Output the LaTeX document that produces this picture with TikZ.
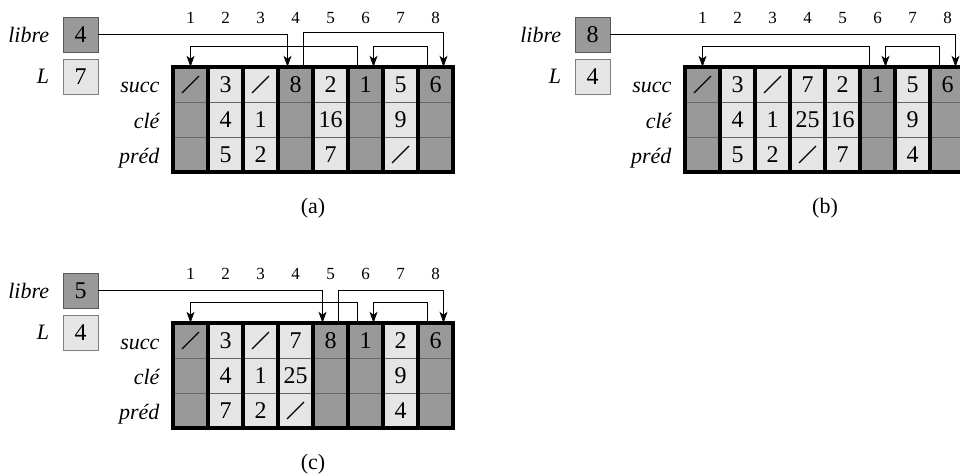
\documentclass[tikz,border=0pt]{standalone}
\usepackage{fontspec}
\setmainfont{Liberation Serif}
\usepackage{graphicx}
\usepackage{tikz}
\usetikzlibrary{arrows.meta}

\newcommand{\barre}{\rotatebox{45}{\rule[-0.6pt]{24pt}{1.2pt}}}

\begin{document}
\begin{tikzpicture}[x=1pt, y=1pt, font=\fontsize{22}{26}\selectfont,
  >={Stealth[length=11pt,width=8pt,inset=3pt]},
  cell/.style={minimum width=35pt, minimum height=35pt, inner sep=0pt, font=\fontsize{24}{28}\selectfont},
  vide/.style={cell, fill=black!40},
  pris/.style={cell, fill=black!10},
  boite/.style={cell, draw=black!65, line width=0.8pt},
  indice/.style={font=\fontsize{17}{20}\selectfont},
  rang/.style={anchor=base east, font=\fontsize{22}{26}\selectfont\itshape},
  ligne/.style={black!60, line width=1pt},
  cloison/.style={line width=3.5pt},
  fleche/.style={->, line width=1pt}]
 \useasboundingbox (0,0) rectangle (960,475);

 % (a)
 \begin{scope}[shift={(173,408)}]
 \node[boite, fill=black!40, label={[label distance=10pt, font=\fontsize{22}{26}\selectfont]left:\textit{libre}}] (alibre) at (-92.5,32.5) {4};
 \node[boite, fill=black!10, draw=black!50, label={[label distance=10pt, font=\fontsize{22}{26}\selectfont]left:\textit{L}}] (aL) at (-92.5,-9.5) {7};
 \node[indice] (ai1) at (17.5,49) {1};
 \node[indice] (ai2) at (52.5,49) {2};
 \node[indice] (ai3) at (87.5,49) {3};
 \node[indice] (ai4) at (122.5,49) {4};
 \node[indice] (ai5) at (157.5,49) {5};
 \node[indice] (ai6) at (192.5,49) {6};
 \node[indice] (ai7) at (227.5,49) {7};
 \node[indice] (ai8) at (262.5,49) {8};
 \node[rang] (asucc) at (-10,-26) {succ};
 \node[rang] (acle) at (-10,-61) {clé};
 \node[rang] (apred) at (-10,-96) {préd};
 \node[vide] (a1) at (17.5,-17.5) {\barre}; \node[vide] (a1c) at (17.5,-52.5) {}; \node[vide] (a1p) at (17.5,-87.5) {};
 \node[pris] (a2) at (52.5,-17.5) {3}; \node[pris] (a2c) at (52.5,-52.5) {4}; \node[pris] (a2p) at (52.5,-87.5) {5};
 \node[pris] (a3) at (87.5,-17.5) {\barre}; \node[pris] (a3c) at (87.5,-52.5) {1}; \node[pris] (a3p) at (87.5,-87.5) {2};
 \node[vide] (a4) at (122.5,-17.5) {8}; \node[vide] (a4c) at (122.5,-52.5) {}; \node[vide] (a4p) at (122.5,-87.5) {};
 \node[pris] (a5) at (157.5,-17.5) {2}; \node[pris] (a5c) at (157.5,-52.5) {16}; \node[pris] (a5p) at (157.5,-87.5) {7};
 \node[vide] (a6) at (192.5,-17.5) {1}; \node[vide] (a6c) at (192.5,-52.5) {}; \node[vide] (a6p) at (192.5,-87.5) {};
 \node[pris] (a7) at (227.5,-17.5) {5}; \node[pris] (a7c) at (227.5,-52.5) {9}; \node[pris] (a7p) at (227.5,-87.5) {\barre};
 \node[vide] (a8) at (262.5,-17.5) {6}; \node[vide] (a8c) at (262.5,-52.5) {}; \node[vide] (a8p) at (262.5,-87.5) {};
 \draw[ligne] (0,-35) -- (280,-35) (0,-70) -- (280,-70);
 \draw[cloison] (35,0) -- (35,-105) (70,0) -- (70,-105) (105,0) -- (105,-105) (140,0) -- (140,-105)
   (175,0) -- (175,-105) (210,0) -- (210,-105) (245,0) -- (245,-105);
 \draw[line width=4pt] (0,0) rectangle (280,-105);
 \draw[fleche] (alibre.east) -| ([xshift=-8pt]a4.north);
 \draw[fleche] ([xshift=8pt]a4.north) -- ++(0,34) -| ([xshift=8pt]a8.north);
 \draw[fleche] ([xshift=-8pt]a8.north) -- ++(0,20) -| ([xshift=8pt]a6.north);
 \draw[fleche] ([xshift=-8pt]a6.north) -- ++(0,20) -| (a1.north);
 \node (acap) at (140,-141) {(a)};
 \end{scope}

 % (b)
 \begin{scope}[shift={(685,408)}]
 \node[boite, fill=black!40, label={[label distance=10pt, font=\fontsize{22}{26}\selectfont]left:\textit{libre}}] (blibre) at (-92.5,32.5) {8};
 \node[boite, fill=black!10, draw=black!50, label={[label distance=10pt, font=\fontsize{22}{26}\selectfont]left:\textit{L}}] (bL) at (-92.5,-9.5) {4};
 \node[indice] (bi1) at (17.5,49) {1};
 \node[indice] (bi2) at (52.5,49) {2};
 \node[indice] (bi3) at (87.5,49) {3};
 \node[indice] (bi4) at (122.5,49) {4};
 \node[indice] (bi5) at (157.5,49) {5};
 \node[indice] (bi6) at (192.5,49) {6};
 \node[indice] (bi7) at (227.5,49) {7};
 \node[indice] (bi8) at (262.5,49) {8};
 \node[rang] (bsucc) at (-10,-26) {succ};
 \node[rang] (bcle) at (-10,-61) {clé};
 \node[rang] (bpred) at (-10,-96) {préd};
 \node[vide] (b1) at (17.5,-17.5) {\barre}; \node[vide] (b1c) at (17.5,-52.5) {}; \node[vide] (b1p) at (17.5,-87.5) {};
 \node[pris] (b2) at (52.5,-17.5) {3}; \node[pris] (b2c) at (52.5,-52.5) {4}; \node[pris] (b2p) at (52.5,-87.5) {5};
 \node[pris] (b3) at (87.5,-17.5) {\barre}; \node[pris] (b3c) at (87.5,-52.5) {1}; \node[pris] (b3p) at (87.5,-87.5) {2};
 \node[pris] (b4) at (122.5,-17.5) {7}; \node[pris] (b4c) at (122.5,-52.5) {25}; \node[pris] (b4p) at (122.5,-87.5) {\barre};
 \node[pris] (b5) at (157.5,-17.5) {2}; \node[pris] (b5c) at (157.5,-52.5) {16}; \node[pris] (b5p) at (157.5,-87.5) {7};
 \node[vide] (b6) at (192.5,-17.5) {1}; \node[vide] (b6c) at (192.5,-52.5) {}; \node[vide] (b6p) at (192.5,-87.5) {};
 \node[pris] (b7) at (227.5,-17.5) {5}; \node[pris] (b7c) at (227.5,-52.5) {9}; \node[pris] (b7p) at (227.5,-87.5) {4};
 \node[vide] (b8) at (262.5,-17.5) {6}; \node[vide] (b8c) at (262.5,-52.5) {}; \node[vide] (b8p) at (262.5,-87.5) {};
 \draw[ligne] (0,-35) -- (280,-35) (0,-70) -- (280,-70);
 \draw[cloison] (35,0) -- (35,-105) (70,0) -- (70,-105) (105,0) -- (105,-105) (140,0) -- (140,-105)
   (175,0) -- (175,-105) (210,0) -- (210,-105) (245,0) -- (245,-105);
 \draw[line width=4pt] (0,0) rectangle (280,-105);
 \draw[fleche] (blibre.east) -| ([xshift=8pt]b8.north);
 \draw[fleche] ([xshift=-8pt]b8.north) -- ++(0,20) -| ([xshift=8pt]b6.north);
 \draw[fleche] ([xshift=-8pt]b6.north) -- ++(0,20) -| (b1.north);
 \node (bcap) at (140,-141) {(b)};
 \end{scope}

 % (c)
 \begin{scope}[shift={(173,152)}]
 \node[boite, fill=black!40, label={[label distance=10pt, font=\fontsize{22}{26}\selectfont]left:\textit{libre}}] (clibre) at (-92.5,32.5) {5};
 \node[boite, fill=black!10, draw=black!50, label={[label distance=10pt, font=\fontsize{22}{26}\selectfont]left:\textit{L}}] (cL) at (-92.5,-9.5) {4};
 \node[indice] (ci1) at (17.5,49) {1};
 \node[indice] (ci2) at (52.5,49) {2};
 \node[indice] (ci3) at (87.5,49) {3};
 \node[indice] (ci4) at (122.5,49) {4};
 \node[indice] (ci5) at (157.5,49) {5};
 \node[indice] (ci6) at (192.5,49) {6};
 \node[indice] (ci7) at (227.5,49) {7};
 \node[indice] (ci8) at (262.5,49) {8};
 \node[rang] (csucc) at (-10,-26) {succ};
 \node[rang] (ccle) at (-10,-61) {clé};
 \node[rang] (cpred) at (-10,-96) {préd};
 \node[vide] (c1) at (17.5,-17.5) {\barre}; \node[vide] (c1c) at (17.5,-52.5) {}; \node[vide] (c1p) at (17.5,-87.5) {};
 \node[pris] (c2) at (52.5,-17.5) {3}; \node[pris] (c2c) at (52.5,-52.5) {4}; \node[pris] (c2p) at (52.5,-87.5) {7};
 \node[pris] (c3) at (87.5,-17.5) {\barre}; \node[pris] (c3c) at (87.5,-52.5) {1}; \node[pris] (c3p) at (87.5,-87.5) {2};
 \node[pris] (c4) at (122.5,-17.5) {7}; \node[pris] (c4c) at (122.5,-52.5) {25}; \node[pris] (c4p) at (122.5,-87.5) {\barre};
 \node[vide] (c5) at (157.5,-17.5) {8}; \node[vide] (c5c) at (157.5,-52.5) {}; \node[vide] (c5p) at (157.5,-87.5) {};
 \node[vide] (c6) at (192.5,-17.5) {1}; \node[vide] (c6c) at (192.5,-52.5) {}; \node[vide] (c6p) at (192.5,-87.5) {};
 \node[pris] (c7) at (227.5,-17.5) {2}; \node[pris] (c7c) at (227.5,-52.5) {9}; \node[pris] (c7p) at (227.5,-87.5) {4};
 \node[vide] (c8) at (262.5,-17.5) {6}; \node[vide] (c8c) at (262.5,-52.5) {}; \node[vide] (c8p) at (262.5,-87.5) {};
 \draw[ligne] (0,-35) -- (280,-35) (0,-70) -- (280,-70);
 \draw[cloison] (35,0) -- (35,-105) (70,0) -- (70,-105) (105,0) -- (105,-105) (140,0) -- (140,-105)
   (175,0) -- (175,-105) (210,0) -- (210,-105) (245,0) -- (245,-105);
 \draw[line width=4pt] (0,0) rectangle (280,-105);
 \draw[fleche] (clibre.east) -| ([xshift=-8pt]c5.north);
 \draw[fleche] ([xshift=8pt]c5.north) -- ++(0,32) -| ([xshift=8pt]c8.north);
 \draw[fleche] ([xshift=-8pt]c8.north) -- ++(0,20) -| ([xshift=8pt]c6.north);
 \draw[fleche] ([xshift=-8pt]c6.north) -- ++(0,20) -| (c1.north);
 \node (ccap) at (140,-141) {(c)};
 \end{scope}
\end{tikzpicture}
\end{document}
